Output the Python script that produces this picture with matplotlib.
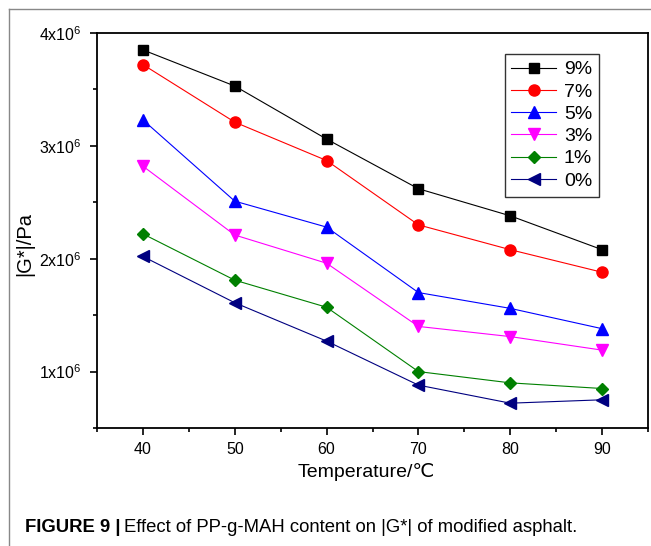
import matplotlib
matplotlib.use("Agg")
import matplotlib.pyplot as plt
from matplotlib.lines import Line2D
from matplotlib.ticker import MultipleLocator, FuncFormatter

plt.rcParams['font.family'] = ['Liberation Sans', 'DejaVu Sans']
plt.rcParams['mathtext.fontset'] = 'custom'
plt.rcParams['mathtext.rm'] = 'Liberation Sans'

# data
temperature = [40, 50, 60, 70, 80, 90]
g_9 = [3.85e6, 3.53e6, 3.06e6, 2.62e6, 2.38e6, 2.08e6]
g_7 = [3.72e6, 3.21e6, 2.87e6, 2.30e6, 2.08e6, 1.88e6]
g_5 = [3.23e6, 2.51e6, 2.28e6, 1.70e6, 1.56e6, 1.38e6]
g_3 = [2.82e6, 2.21e6, 1.96e6, 1.40e6, 1.31e6, 1.19e6]
g_1 = [2.22e6, 1.81e6, 1.57e6, 1.00e6, 0.90e6, 0.85e6]
g_0 = [2.02e6, 1.61e6, 1.27e6, 0.88e6, 0.72e6, 0.75e6]

series = [
    ("9%", g_9, "black", "s", 7),
    ("7%", g_7, "red", "o", 8),
    ("5%", g_5, "blue", "^", 9),
    ("3%", g_3, "magenta", "v", 9),
    ("1%", g_1, "green", "D", 6.5),
    ("0%", g_0, "navy", "<", 9),
]

fig = plt.figure(figsize=(6.51, 5.46), dpi=100)
ax = fig.add_axes([0.149, 0.2161, 0.8464, 0.7235])

for label, vals, col, mk, ms in series:
    ax.plot(temperature, vals, color=col, marker=mk, markersize=ms,
            linewidth=0.8, label=label)

ax.set_xlim(35, 95)
ax.set_ylim(0.5e6, 4e6)
ax.xaxis.set_major_locator(MultipleLocator(10))
ax.xaxis.set_minor_locator(MultipleLocator(5))
ax.yaxis.set_major_locator(MultipleLocator(1e6))
ax.yaxis.set_minor_locator(MultipleLocator(0.5e6))
ax.yaxis.set_major_formatter(
    FuncFormatter(lambda v, p: r'$\mathregular{%dx10^{6}}$' % round(v / 1e6)))

ax.tick_params(which='major', direction='out', length=5, width=1.2,
               labelsize=11.5, top=False, right=False)
ax.tick_params(which='minor', direction='out', length=3, width=1.2,
               top=False, right=False)
ax.tick_params(axis='x', pad=5)
ax.tick_params(axis='y', pad=6)
for s in ax.spines.values():
    s.set_linewidth(1.3)

ax.set_xlabel("Temperature/℃", fontsize=14)
ax.xaxis.set_label_coords(0.488, -0.088)
ax.set_ylabel("|G*|/Pa", fontsize=14.5)
ax.yaxis.set_label_coords(-0.114, 0.466)

leg = ax.legend(loc='upper right', bbox_to_anchor=(0.911, 0.947),
                borderaxespad=0, fontsize=14, handlelength=2.3,
                fancybox=False, labelspacing=0.24, borderpad=0.35,
                handletextpad=0.4)
leg.get_frame().set_edgecolor('black')
leg.get_frame().set_linewidth(1.0)

# gray frame lines at top and left
fig.add_artist(Line2D([9 / 651, 9 / 651], [0, 1 - 9 / 546],
                      transform=fig.transFigure, color='#888888', lw=1))
fig.add_artist(Line2D([9 / 651, 1], [1 - 9 / 546, 1 - 9 / 546],
                      transform=fig.transFigure, color='#888888', lw=1))

# caption
t1 = fig.text(25 / 651, 1 - 528 / 546, "FIGURE 9 |", fontsize=13.3,
              fontweight='bold', va='center', ha='left')
r = fig.canvas.get_renderer()
bb = t1.get_window_extent(renderer=r)
fig.text((bb.x1 + 4) / fig.bbox.width, 1 - 528 / 546,
         "Effect of PP-g-MAH content on |G*| of modified asphalt.",
         fontsize=13.3, va='center', ha='left')

fig.savefig("out.png", dpi=100)
